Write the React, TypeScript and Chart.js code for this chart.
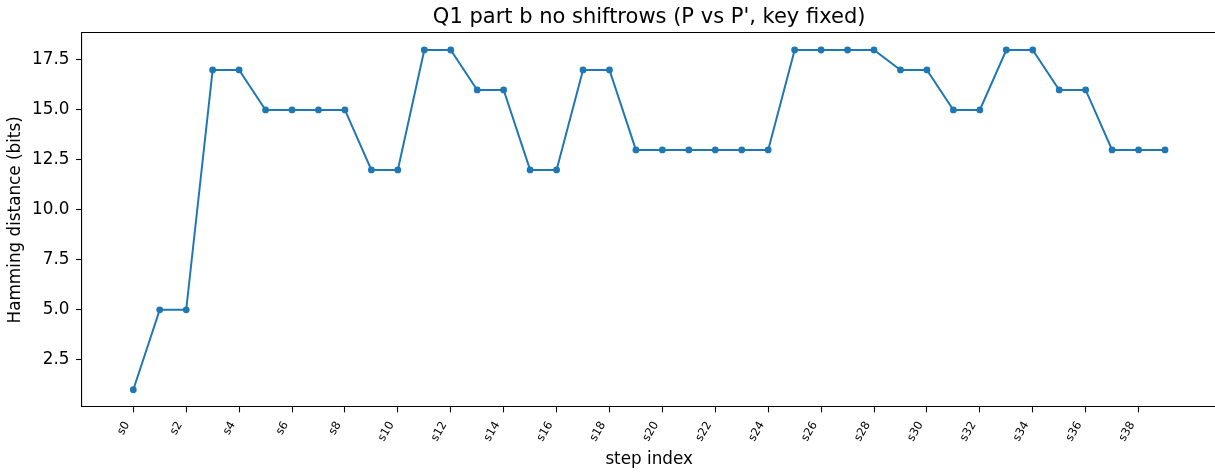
import React, { useEffect, useRef } from "react";
import { Chart, registerables } from "chart.js";

Chart.register(...registerables);

// Step labels along the x axis (one per measurement)
const stepLabels = [
  "s0", "s1", "s2", "s3", "s4", "s5", "s6", "s7", "s8", "s9",
  "s10", "s11", "s12", "s13", "s14", "s15", "s16", "s17", "s18", "s19",
  "s20", "s21", "s22", "s23", "s24", "s25", "s26", "s27", "s28", "s29",
  "s30", "s31", "s32", "s33", "s34", "s35", "s36", "s37", "s38", "s39",
];

// Hamming distance (bits) between P and P' states at each step
const hammingBits = [
  1, 5, 5, 17, 17, 15, 15, 15, 15, 12,
  12, 18, 18, 16, 16, 12, 12, 17, 17, 13,
  13, 13, 13, 13, 13, 18, 18, 18, 18, 17,
  17, 15, 15, 18, 18, 16, 16, 13, 13, 13,
];

// Labelled tick positions
const xTickIndices = [0, 2, 4, 6, 8, 10, 12, 14, 16, 18, 20, 22, 24, 26, 28, 30, 32, 34, 36, 38];
const yTickValues = [2.5, 5.0, 7.5, 10.0, 12.5, 15.0, 17.5];

const TITLE = "Q1 part b no shiftrows (P vs P', key fixed)";
const X_TITLE = "step index";
const Y_TITLE = "Hamming distance (bits)";

const FONT = "'DejaVu Sans', 'Liberation Sans', sans-serif";
const LINE_BLUE = "#1f77b4";

// Axis frame (top/right spines) and the figure title
const framePlugin = {
  id: "frameAndTitle",
  afterDraw(chart: Chart) {
    const { ctx, chartArea } = chart;
    const top = Math.round(chartArea.top) - 0.5;
    ctx.save();
    ctx.strokeStyle = "#000";
    ctx.lineWidth = 1.2;
    ctx.beginPath();
    ctx.moveTo(chartArea.left, top);
    ctx.lineTo(chartArea.right, top);
    ctx.lineTo(chartArea.right, chartArea.bottom);
    ctx.stroke();

    ctx.fillStyle = "#000";
    ctx.font = `21px ${FONT}`;
    ctx.textAlign = "center";
    ctx.textBaseline = "alphabetic";
    ctx.fillText(TITLE, (chartArea.left + chartArea.right) / 2, 23);
    ctx.restore();
  },
};

export default function App() {
  const canvasRef = useRef<HTMLCanvasElement | null>(null);

  useEffect(() => {
    if (!canvasRef.current) return;
    const points = hammingBits.map((v, i) => ({ x: i, y: v }));
    const n = stepLabels.length - 1;
    const margin = n * 0.05;

    const chart = new Chart(canvasRef.current, {
      type: "line",
      data: {
        datasets: [
          {
            data: points,
            borderColor: LINE_BLUE,
            backgroundColor: LINE_BLUE,
            borderWidth: 2,
            pointRadius: 3.4,
            pointHoverRadius: 3.4,
            pointBorderWidth: 0,
            pointBackgroundColor: LINE_BLUE,
            tension: 0,
            fill: false,
          },
        ],
      },
      options: {
        animation: false,
        responsive: false,
        devicePixelRatio: 1,
        events: [],
        layout: { padding: { top: 33, right: 2.8, left: 0, bottom: 0 } },
        plugins: {
          legend: { display: false },
          tooltip: { enabled: false },
          title: { display: false },
        },
        scales: {
          x: {
            type: "linear",
            min: -margin,
            max: n + margin,
            afterFit: (scale: any) => {
              scale.height = 65.3;
            },
            afterBuildTicks: (scale: any) => {
              scale.ticks = xTickIndices.map((v) => ({ value: v }));
            },
            grid: {
              display: true,
              drawOnChartArea: false,
              drawTicks: true,
              tickLength: 5.6,
              tickWidth: 1.1,
              tickColor: "#000",
            },
            border: { display: true, color: "#000", width: 1.1 },
            ticks: {
              autoSkip: false,
              minRotation: 60,
              maxRotation: 60,
              padding: 6.8,
              labelOffset: -6.3,
              color: "#000",
              font: { family: FONT, size: 11.5 },
              callback: (value: any) => stepLabels[Number(value)] ?? "",
            },
            title: {
              display: true,
              text: X_TITLE,
              color: "#000",
              font: { family: FONT, size: 16.8 },
              padding: { top: 0, bottom: 2.5 },
            },
          },
          y: {
            type: "linear",
            min: 0.15,
            max: 18.85,
            afterFit: (scale: any) => {
              scale.width = 81.7;
            },
            afterBuildTicks: (scale: any) => {
              scale.ticks = yTickValues.map((v) => ({ value: v }));
            },
            grid: {
              display: true,
              drawOnChartArea: false,
              drawTicks: true,
              tickLength: 5.6,
              tickWidth: 1.1,
              tickColor: "#000",
            },
            border: { display: true, color: "#000", width: 1.1 },
            ticks: {
              padding: 6.7,
              color: "#000",
              font: { family: FONT, size: 16.8 },
              callback: (value: any) => Number(value).toFixed(1),
            },
            title: {
              display: true,
              text: Y_TITLE,
              color: "#000",
              font: { family: FONT, size: 16.8 },
              padding: { top: 5.5, bottom: 0 },
            },
          },
        },
      },
      plugins: [framePlugin],
    });

    return () => chart.destroy();
  }, []);

  return (
    <div
      style={{
        position: "fixed",
        left: 0,
        top: 0,
        width: 1215,
        height: 472,
        overflow: "hidden",
        background: "#fff",
      }}
    >
      <canvas
        ref={canvasRef}
        width={1220}
        height={472}
        style={{ display: "block", width: 1220, height: 472 }}
      />
    </div>
  );
}
